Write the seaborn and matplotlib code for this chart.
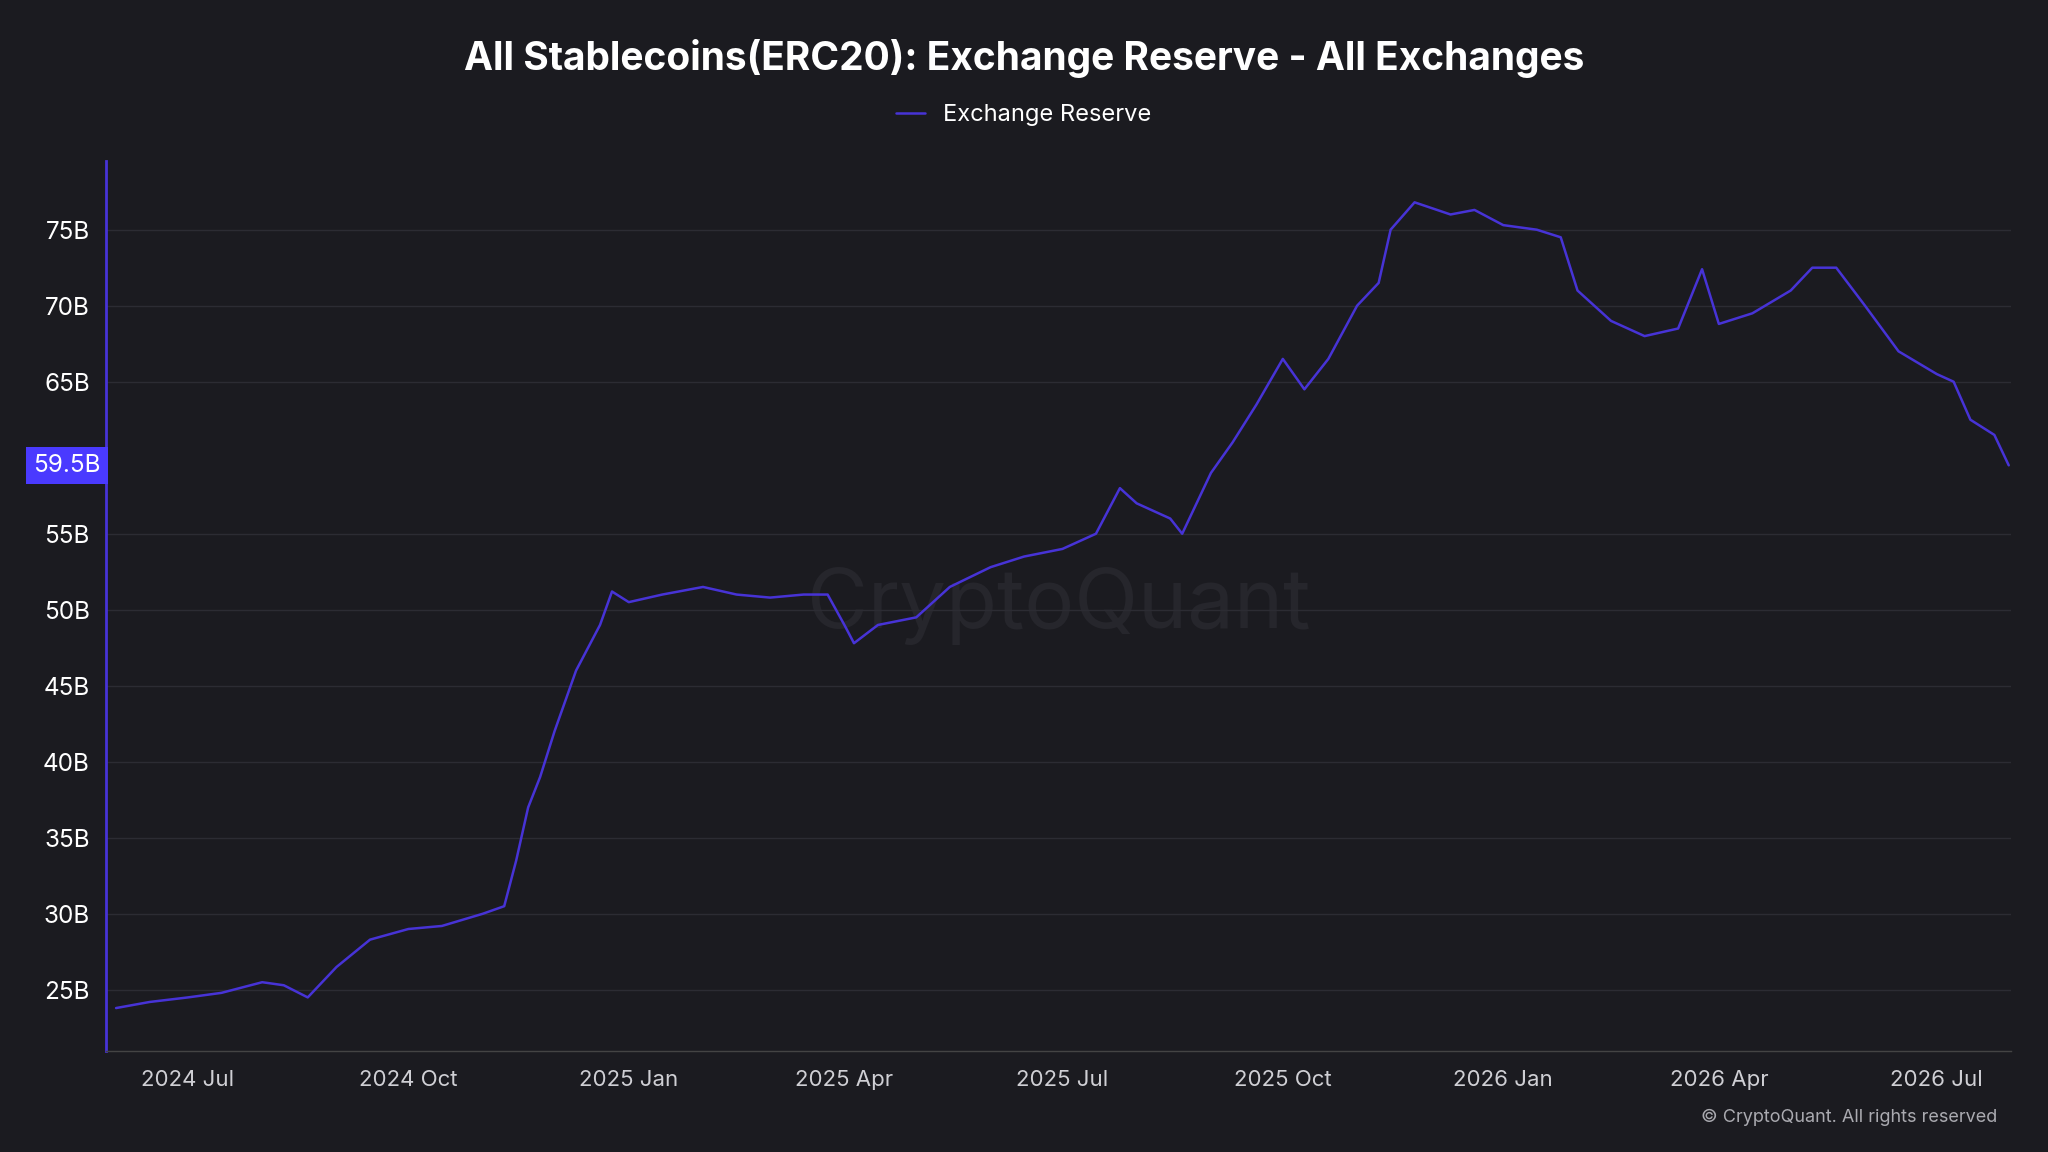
import matplotlib
matplotlib.use("Agg")
import matplotlib.pyplot as plt
import matplotlib.dates as mdates
import seaborn as sns
import pandas as pd

dates = ["2024-06-01","2024-06-15","2024-07-01","2024-07-15","2024-08-01","2024-08-10","2024-08-20",
 "2024-09-01","2024-09-15","2024-10-01","2024-10-15","2024-11-01","2024-11-10","2024-11-15","2024-11-20",
 "2024-11-25","2024-12-01","2024-12-10","2024-12-20","2024-12-25","2025-01-01","2025-01-15","2025-02-01",
 "2025-02-15","2025-03-01","2025-03-15","2025-03-25","2025-04-01","2025-04-05","2025-04-15","2025-05-01",
 "2025-05-15","2025-06-01","2025-06-15","2025-07-01","2025-07-15","2025-07-25","2025-08-01","2025-08-15",
 "2025-08-20","2025-09-01","2025-09-10","2025-09-20","2025-10-01","2025-10-10","2025-10-20","2025-11-01",
 "2025-11-10","2025-11-15","2025-11-25","2025-12-10","2025-12-20","2026-01-01","2026-01-15","2026-01-25",
 "2026-02-01","2026-02-15","2026-03-01","2026-03-15","2026-03-25","2026-04-01","2026-04-15","2026-05-01",
 "2026-05-10","2026-05-20","2026-06-01","2026-06-15","2026-07-01","2026-07-08","2026-07-15","2026-07-25","2026-07-31"]
reserve = [23.8,24.2,24.5,24.8,25.5,25.3,24.5,26.5,28.3,29.0,29.2,30.0,30.5,33.5,37.0,39.0,42.0,46.0,49.0,51.2,
 50.5,51.0,51.5,51.0,50.8,51.0,51.0,49.0,47.8,49.0,49.5,51.5,52.8,53.5,54.0,55.0,58.0,57.0,56.0,55.0,59.0,61.0,
 63.5,66.5,64.5,66.5,70.0,71.5,75.0,76.8,76.0,76.3,75.3,75.0,74.5,71.0,69.0,68.0,68.5,72.4,68.8,69.5,71.0,72.5,
 72.5,70.0,67.0,65.5,65.0,62.5,61.5,59.5]
yticks = [25,30,35,40,45,50,55,60,65,70,75]

df = pd.DataFrame({"date": pd.to_datetime(dates), "reserve": reserve})
bg = "#1b1b20"
line_c = "#4733d6"
sns.set_theme(style="dark")
plt.rcParams['font.family'] = ['Inter', 'DejaVu Sans']
fig = plt.figure(figsize=(20.48, 11.52), dpi=100, facecolor=bg)
ax = fig.add_axes([0.052, 0.088, 0.93, 0.772])
ax.set_facecolor(bg)
sns.lineplot(data=df, x="date", y="reserve", ax=ax, color=line_c, linewidth=1.8, label="Exchange Reserve", legend=False)
ax.set_xlim(pd.Timestamp("2024-05-28"), pd.Timestamp("2026-08-01"))
ax.set_ylim(21.0, 79.5)
ax.set_yticks([t for t in yticks if t != 60])
ax.set_yticklabels([f"{t}B" for t in yticks if t != 60], color="white", fontsize=17.5)
ax.yaxis.grid(True, color="#2c2c33", linewidth=1)
ax.xaxis.grid(False)
ax.xaxis.set_major_locator(mdates.MonthLocator(bymonth=[1,4,7,10]))
ax.xaxis.set_major_formatter(mdates.DateFormatter("%Y %b"))
ax.tick_params(axis='x', colors="#cfcfd4", labelsize=16, length=6, color="#555", pad=8)
ax.tick_params(axis='y', length=0, pad=12)
for s in ["top", "right"]:
    ax.spines[s].set_visible(False)
ax.spines["left"].set_color(line_c); ax.spines["left"].set_linewidth(2)
ax.spines["bottom"].set_color("#444"); ax.spines["bottom"].set_linewidth(1)
ax.set_xlabel(""); ax.set_ylabel("")
ax.text(-0.003, 59.5, "59.5B", transform=ax.get_yaxis_transform(), ha="right", va="center",
        color="white", fontsize=17.5, bbox=dict(boxstyle="square,pad=0.3", fc="#4a3aff", ec="none"))
ax.text(0.5, 0.5, "CryptoQuant", transform=ax.transAxes, ha="center", va="center",
        color="#26262c", fontsize=60, zorder=0)
fig.text(0.5, 0.949, "All Stablecoins(ERC20): Exchange Reserve - All Exchanges", ha="center", va="center",
         color="white", fontsize=28, fontweight="bold")
fig.legend(handles=ax.get_lines(), labels=["Exchange Reserve"], loc="center", bbox_to_anchor=(0.5, 0.9),
           frameon=False, labelcolor="white", fontsize=17, handlelength=1.2)
fig.text(0.975, 0.03, "© CryptoQuant. All rights reserved", ha="right", va="center", color="#aaaab0", fontsize=13)
fig.savefig("out.png", dpi=100, facecolor=bg)
